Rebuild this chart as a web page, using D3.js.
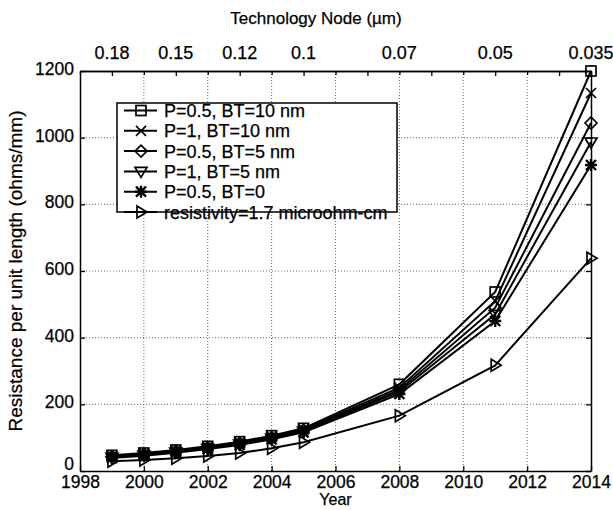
<!DOCTYPE html>
<html>
<head>
<meta charset="utf-8">
<script src="https://cdn.jsdelivr.net/npm/d3@7"></script>
<style>
  body { margin: 0; background: #fff; }
  text { font-family: "Liberation Sans", Arial, sans-serif; fill: #000; stroke: #000; stroke-width: 0.25px; }
</style>
</head>
<body>
<div id="chart"></div>
<script>
// resistance per unit length vs year
const years = [1999, 2000, 2001, 2002, 2003, 2004, 2005, 2008, 2011, 2014];
const seriesNames = ["P=0.5, BT=10 nm", "P=1, BT=10 nm", "P=0.5, BT=5 nm", "P=1, BT=5 nm", "P=0.5, BT=0", "resistivity=1.7 microohm-cm"];
const seriesSymbols = ["square", "cross", "diamond", "triDown", "star", "triRight"];
const p05bt10 = [47, 54, 63, 74, 88, 106, 128, 260, 537, 1200];
const p1bt10 = [45, 52, 61, 72, 85, 103, 125, 250, 510, 1134];
const p05bt5 = [43, 50, 59, 70, 83, 100, 122, 243, 490, 1044];
const p1bt5 = [41, 48, 57, 68, 81, 98, 119, 238, 470, 987];
const p05bt0 = [39, 46, 55, 66, 78, 95, 116, 231, 450, 918];
const bulk = [29, 33, 38, 45, 54, 68, 86, 166, 317, 638];
const seriesValues = [p05bt10, p1bt10, p05bt5, p1bt5, p05bt0, bulk];

const yearTicks = [1998, 2000, 2002, 2004, 2006, 2008, 2010, 2012, 2014];
const resTicks = [0, 200, 400, 600, 800, 1000, 1200];
const nodeYears = [1999, 2001, 2003, 2005, 2008, 2011, 2014];
const nodeLabels = ["0.18", "0.15", "0.12", "0.1", "0.07", "0.05", "0.035"];
const topTickYears = [1999, 2001, 2003, 2005, 2007, 2009, 2011, 2013];

const width = 613, height = 510;
const margin = { top: 71, right: 22, bottom: 39, left: 80 };
const iw = width - margin.left - margin.right;
const ih = height - margin.top - margin.bottom;

const svg = d3.select("#chart").append("svg")
  .attr("width", width)
  .attr("height", height);

const g = svg.append("g").attr("transform", `translate(${margin.left},${margin.top})`);

const x = d3.scaleLinear().domain([1998, 2014]).range([0, iw]);
const y = d3.scaleLinear().domain([0, 1200]).range([ih, 0]);

// grid
g.append("g").selectAll("line")
  .data(yearTicks.slice(1, -1))
  .join("line")
  .attr("x1", d => x(d)).attr("x2", d => x(d))
  .attr("y1", 0).attr("y2", ih)
  .attr("stroke", "#444").attr("stroke-width", 0.8).attr("stroke-dasharray", "1,2");
g.append("g").selectAll("line")
  .data(resTicks.slice(1, -1))
  .join("line")
  .attr("x1", 0).attr("x2", iw)
  .attr("y1", d => y(d)).attr("y2", d => y(d))
  .attr("stroke", "#444").attr("stroke-width", 0.8).attr("stroke-dasharray", "1,2");

// axes
const bottomAxis = g.append("g").attr("transform", `translate(0,${ih})`)
  .call(d3.axisBottom(x).tickValues(yearTicks).tickFormat(d3.format("d")).tickSizeInner(-5).tickSizeOuter(0).tickPadding(5));
const leftAxis = g.append("g")
  .call(d3.axisLeft(y).tickValues(resTicks).tickFormat(d3.format("d")).tickSizeInner(-5).tickSizeOuter(0).tickPadding(6));
const rightAxis = g.append("g").attr("transform", `translate(${iw},0)`)
  .call(d3.axisRight(y).tickValues(resTicks).tickFormat("").tickSizeInner(-5).tickSizeOuter(0));
const topAxis = g.append("g")
  .call(d3.axisTop(x).tickValues(topTickYears).tickFormat("").tickSizeInner(-5).tickSizeOuter(0));
const topEven = g.append("g")
  .call(d3.axisTop(x).tickValues(yearTicks).tickFormat("").tickSizeInner(-4).tickSizeOuter(0));

[bottomAxis, leftAxis, rightAxis, topAxis, topEven].forEach(a => {
  a.select(".domain").attr("stroke", "#000").attr("stroke-width", 1.5);
  a.selectAll(".tick line").attr("stroke", "#000").attr("stroke-width", 1.3);
  a.selectAll(".tick text").style("font-family", "Liberation Sans, Arial, sans-serif")
    .style("font-size", "17.5px").attr("fill", "#000");
});
leftAxis.selectAll(".tick text").attr("dy", d => d === 0 ? "-0.1em" : "0.2em");
bottomAxis.selectAll(".tick text").attr("dy", "0.68em");

// top node labels
g.append("g").selectAll("text")
  .data(nodeYears)
  .join("text")
  .attr("x", d => x(d))
  .attr("y", -12)
  .attr("text-anchor", "middle")
  .style("font-size", "18px")
  .text((d, i) => nodeLabels[i]);

// symbols
function drawSymbol(sel, type, cx, cy) {
  const s = 5;
  const st = { fill: "none", stroke: "#000", "stroke-width": 1.7 };
  let el;
  if (type === "square") {
    el = sel.append("rect").attr("x", cx - s).attr("y", cy - s).attr("width", 2 * s).attr("height", 2 * s);
  } else if (type === "diamond") {
    el = sel.append("path").attr("d", `M${cx},${cy - s - 1}L${cx + s + 1},${cy}L${cx},${cy + s + 1}L${cx - s - 1},${cy}Z`);
  } else if (type === "triDown") {
    el = sel.append("path").attr("d", `M${cx - s - 1},${cy - s + 1}L${cx + s + 1},${cy - s + 1}L${cx},${cy + s + 1}Z`);
  } else if (type === "triRight") {
    el = sel.append("path").attr("d", `M${cx - s + 1},${cy - s - 1}L${cx + s + 1},${cy}L${cx - s + 1},${cy + s + 1}Z`);
  } else if (type === "cross") {
    el = sel.append("path").attr("d", `M${cx - s},${cy - s}L${cx + s},${cy + s}M${cx - s},${cy + s}L${cx + s},${cy - s}`);
  } else {
    el = sel.append("path").attr("d", `M${cx - s},${cy - s}L${cx + s},${cy + s}M${cx - s},${cy + s}L${cx + s},${cy - s}M${cx - s - 1},${cy}L${cx + s + 1},${cy}M${cx},${cy - s - 1}L${cx},${cy + s + 1}`);
    st["stroke-width"] = 2.4;
  }
  Object.entries(st).forEach(([k, v]) => el.attr(k, v));
}

const line = d3.line().x((d, i) => x(years[i])).y(d => y(d));

seriesValues.forEach((vals, si) => {
  const sg = g.append("g");
  sg.append("path")
    .datum(vals)
    .attr("d", line)
    .attr("fill", "none")
    .attr("stroke", "#000")
    .attr("stroke-width", 2);
  vals.forEach((v, i) => drawSymbol(sg, seriesSymbols[si], x(years[i]), y(v)));
});

// legend
const legend = svg.append("g");
const lx = 117, ly = 103, lw = 280, lh = 109;
legend.append("rect")
  .attr("x", lx).attr("y", ly).attr("width", lw).attr("height", lh)
  .attr("fill", "#fff").attr("stroke", "#000").attr("stroke-width", 1.5);
seriesNames.forEach((name, i) => {
  const ry = ly + 7.5 + i * 20.3;
  legend.append("line")
    .attr("x1", lx + 7).attr("x2", lx + 40)
    .attr("y1", ry).attr("y2", ry)
    .attr("stroke", "#000").attr("stroke-width", 2);
  drawSymbol(legend, seriesSymbols[i], lx + 24, ry);
  legend.append("text")
    .attr("x", lx + 47).attr("y", ry + 6.5)
    .style("font-size", "18px")
    .text(name);
});

// axis titles
svg.append("text")
  .attr("x", 316).attr("y", 24)
  .attr("text-anchor", "middle")
  .style("font-size", "17px")
  .text("Technology Node (\u00b5m)");
svg.append("text")
  .attr("x", margin.left + x(2006)).attr("y", 505)
  .attr("text-anchor", "middle")
  .style("font-size", "16px")
  .text("Year");
svg.append("text")
  .attr("transform", `translate(22,${margin.top + ih / 2}) rotate(-90)`)
  .attr("text-anchor", "middle")
  .style("font-size", "19px")
  .text("Resistance per unit length (ohms/mm)");
</script>
</body>
</html>
